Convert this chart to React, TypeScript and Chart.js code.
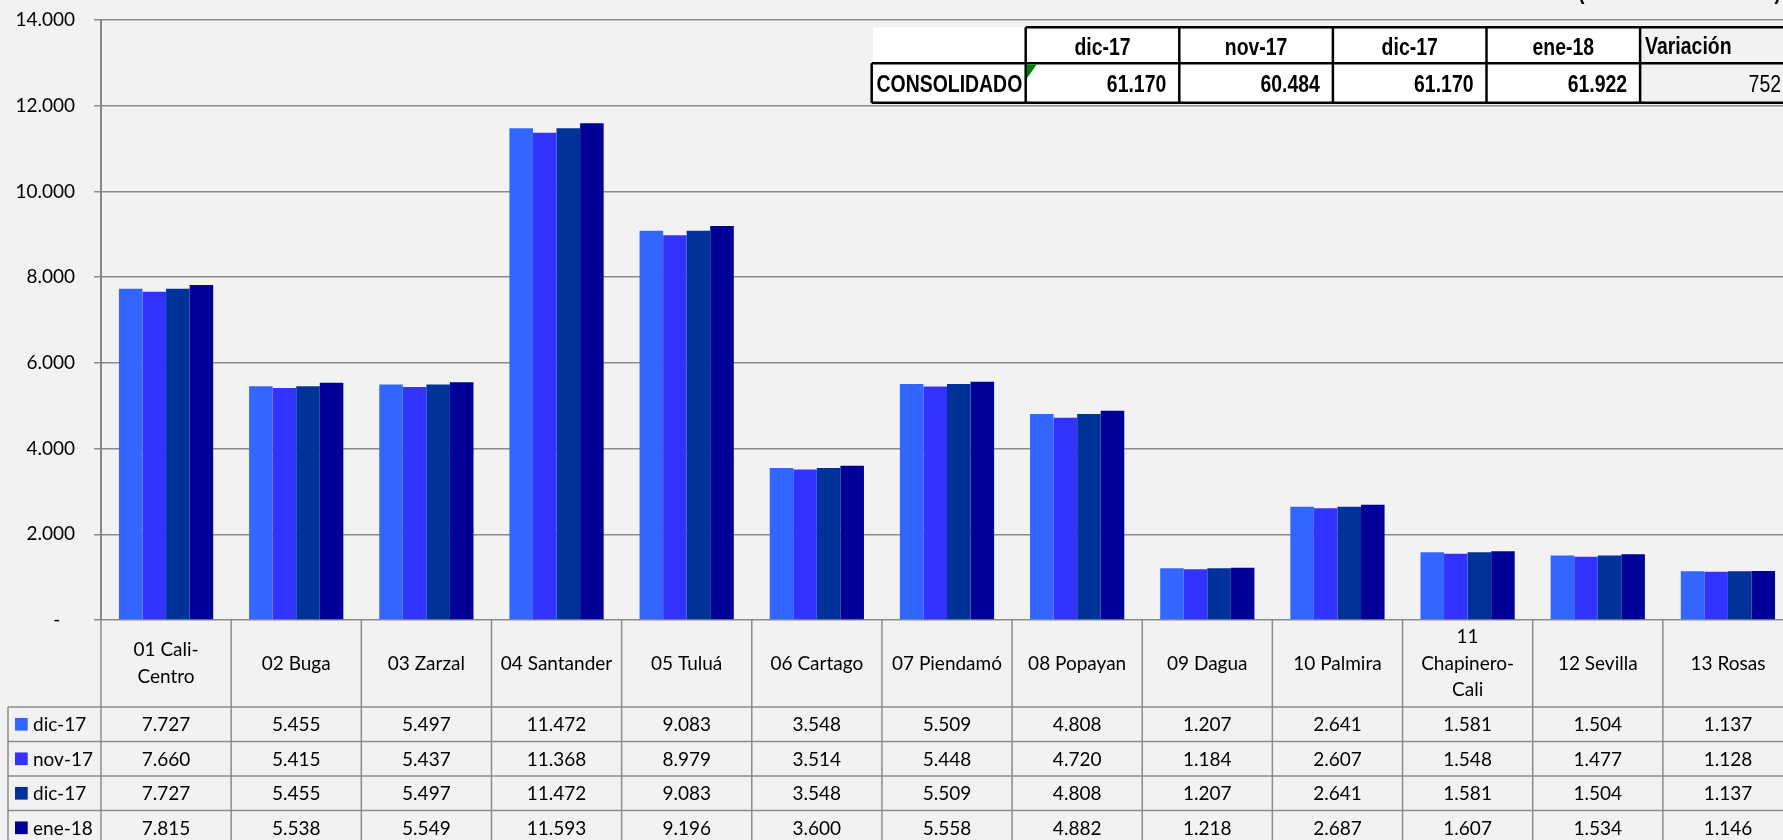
import React, { useEffect, useRef } from "react";
import { Chart, registerables } from "chart.js";

Chart.register(...registerables);

const categories: (string | string[])[] = [
  ["01 Cali-", "Centro"],
  "02 Buga",
  "03 Zarzal",
  "04 Santander",
  "05 Tuluá",
  "06 Cartago",
  "07 Piendamó",
  "08 Popayan",
  "09 Dagua",
  "10 Palmira",
  ["11", "Chapinero-", "Cali"],
  "12 Sevilla",
  "13 Rosas",
];

const seriesLabels = ["dic-17", "nov-17", "dic-17", "ene-18"];
const seriesColors = ["#3366FF", "#3333FF", "#003399", "#000099"];

const dic17 = [7727, 5455, 5497, 11472, 9083, 3548, 5509, 4808, 1207, 2641, 1581, 1504, 1137];
const nov17 = [7660, 5415, 5437, 11368, 8979, 3514, 5448, 4720, 1184, 2607, 1548, 1477, 1128];
const dic17b = [7727, 5455, 5497, 11472, 9083, 3548, 5509, 4808, 1207, 2641, 1581, 1504, 1137];
const ene18 = [7815, 5538, 5549, 11593, 9196, 3600, 5558, 4882, 1218, 2687, 1607, 1534, 1146];

const yMax = 14000;
const yStep = 2000;

const consolidadoLabel = "CONSOLIDADO";
const consolidadoHeaders = ["dic-17", "nov-17", "dic-17", "ene-18"];
const consolidadoValues = [61170, 60484, 61170, 61922];
const variacionLabel = "Variación";
const variacionValue = 752;

const fmt = (n: number) =>
  Math.round(n).toString().replace(/\B(?=(\d{3})+(?!\d))/g, ".");

const BG = "#f2f2f2";
const FONT = "Lato, 'Open Sans', sans-serif";
const NARROW = "'Liberation Sans', Arial, sans-serif";

function narrowText(
  ctx: CanvasRenderingContext2D,
  txt: string,
  x: number,
  y: number,
  align: CanvasTextAlign,
  bold: boolean
) {
  ctx.save();
  ctx.translate(x, y);
  ctx.scale(0.845, 1);
  ctx.font = `${bold ? "bold " : ""}23px ${NARROW}`;
  ctx.textAlign = align;
  ctx.textBaseline = "alphabetic";
  ctx.fillStyle = "#000";
  ctx.fillText(txt, 0, 0);
  ctx.restore();
}

const bgPlugin = {
  id: "bgPlugin",
  beforeDraw(chart: any) {
    const ctx = chart.ctx as CanvasRenderingContext2D;
    ctx.save();
    ctx.fillStyle = BG;
    ctx.fillRect(0, 0, chart.width, chart.height);
    ctx.restore();
  },
};

const tablePlugin = {
  id: "tablePlugin",
  afterDraw(chart: any) {
    const ctx = chart.ctx as CanvasRenderingContext2D;
    const { left, right, bottom } = chart.chartArea;
    const xs = chart.scales.x;
    const n = categories.length;
    const colW = (right - left) / n;
    const headerH = 87;
    const rowH = 34.5;
    const headerBottom = bottom + headerH;
    const tableBottom = headerBottom + rowH * 4;
    const legendLeft = 8;
    const seriesData = [dic17, nov17, dic17b, ene18];

    ctx.save();
    ctx.strokeStyle = "#8c8c8c";
    ctx.lineWidth = 1.5;
    ctx.beginPath();
    for (let k = 0; k <= n; k++) {
      const x = left + k * colW;
      ctx.moveTo(x, bottom);
      ctx.lineTo(x, tableBottom);
    }
    ctx.moveTo(legendLeft, headerBottom);
    ctx.lineTo(legendLeft, tableBottom);
    for (let r = 0; r <= 4; r++) {
      const y = headerBottom + r * rowH;
      ctx.moveTo(legendLeft, y);
      ctx.lineTo(right + 10, y);
    }
    ctx.stroke();

    ctx.fillStyle = "#000";
    ctx.font = `19px ${FONT}`;
    ctx.textAlign = "center";
    ctx.textBaseline = "middle";
    const lh = 26.7;
    categories.forEach((c, i) => {
      const lines = Array.isArray(c) ? c : [c];
      const cx = xs.getPixelForValue(i);
      const cy = bottom + headerH / 2;
      const y0 = cy - ((lines.length - 1) * lh) / 2;
      lines.forEach((ln, j) => ctx.fillText(ln, cx, y0 + j * lh));
    });

    seriesData.forEach((arr, r) => {
      const cy = headerBottom + r * rowH + rowH / 2;
      ctx.fillStyle = seriesColors[r];
      ctx.fillRect(15, cy - 6.3, 12.7, 12.7);
      ctx.fillStyle = "#000";
      ctx.textAlign = "left";
      ctx.fillText(seriesLabels[r], 33, cy + 1);
      ctx.textAlign = "center";
      arr.forEach((v, i) => {
        ctx.fillText(fmt(v), xs.getPixelForValue(i), cy + 1);
      });
    });
    ctx.restore();

    // Consolidado table
    const x0 = 871.7;
    const c0 = 1025.7;
    const cw = 153.6;
    const y0 = 27.3;
    const y1 = 63.3;
    const y2 = 102.7;
    const varX = c0 + cw * consolidadoHeaders.length;
    ctx.save();
    ctx.fillStyle = "#ffffff";
    ctx.fillRect(873, y0, varX - 873, y2 - y0);
    ctx.strokeStyle = "#000";
    ctx.lineWidth = 2.5;
    ctx.beginPath();
    ctx.moveTo(c0, y0);
    ctx.lineTo(chart.width, y0);
    ctx.moveTo(x0, y1);
    ctx.lineTo(chart.width, y1);
    ctx.moveTo(x0, y2);
    ctx.lineTo(chart.width, y2);
    ctx.moveTo(x0, y1);
    ctx.lineTo(x0, y2);
    for (let k = 0; k <= consolidadoHeaders.length; k++) {
      const x = c0 + k * cw;
      ctx.moveTo(x, y0);
      ctx.lineTo(x, y2);
    }
    ctx.stroke();

    consolidadoHeaders.forEach((h, k) => {
      narrowText(ctx, h, c0 + k * cw + cw / 2, 55, "center", true);
    });
    consolidadoValues.forEach((v, k) => {
      narrowText(ctx, fmt(v), c0 + (k + 1) * cw - 13, 91.7, "right", true);
    });
    narrowText(ctx, consolidadoLabel, 876.5, 91.7, "left", true);
    narrowText(ctx, variacionLabel, varX + 5, 53.5, "left", true);
    narrowText(ctx, fmt(variacionValue), 1781, 91.7, "right", false);

    // green error marker
    ctx.fillStyle = "#008000";
    ctx.beginPath();
    ctx.moveTo(c0 + 1.2, y1 + 1.2);
    ctx.lineTo(c0 + 11, y1 + 1.2);
    ctx.lineTo(c0 + 1.2, y1 + 15);
    ctx.closePath();
    ctx.fill();

    // clipped title fragments at the top edge
    narrowText(ctx, "(", 1578, -1.5, "left", true);
    narrowText(ctx, ")", 1781, -1.5, "right", true);
    ctx.restore();
  },
};

export default function App() {
  const ref = useRef<HTMLCanvasElement | null>(null);

  useEffect(() => {
    if (!ref.current) return;
    const chart = new Chart(ref.current, {
      type: "bar",
      data: {
        labels: categories as any,
        datasets: [dic17, nov17, dic17b, ene18].map((d, i) => ({
          label: seriesLabels[i],
          data: d,
          backgroundColor: seriesColors[i],
          borderWidth: 0,
          categoryPercentage: 0.724,
          barPercentage: 1,
        })),
      },
      options: {
        animation: false,
        responsive: false,
        devicePixelRatio: 1,
        layout: { padding: { left: 0, top: 20, right: 7, bottom: 225 } },
        plugins: {
          legend: { display: false },
          tooltip: { enabled: false },
          title: { display: false },
        },
        scales: {
          x: {
            display: false,
            grid: { display: false },
          },
          y: {
            min: 0,
            max: yMax,
            afterFit(scale: any) {
              scale.width = 101;
              scale.paddingTop = 0;
              scale.paddingBottom = 0;
            },
            ticks: {
              stepSize: yStep,
              padding: 19,
              color: "#000",
              font: { family: FONT, size: 19 },
              callback: (v: any) => (Number(v) === 0 ? "-   " : fmt(Number(v))),
            },
            grid: {
              color: "#8c8c8c",
              lineWidth: 1.5,
              tickLength: 7,
              drawTicks: true,
            },
            border: { display: true, color: "#868686", width: 2 },
          },
        },
      },
      plugins: [bgPlugin, tablePlugin],
    });
    return () => chart.destroy();
  }, []);

  return (
    <div
      style={{
        position: "fixed",
        left: 0,
        top: 0,
        width: 1783,
        height: 840,
        overflow: "hidden",
        background: BG,
      }}
    >
      <canvas ref={ref} width={1800} height={845} style={{ width: 1800, height: 845, display: "block" }} />
    </div>
  );
}
